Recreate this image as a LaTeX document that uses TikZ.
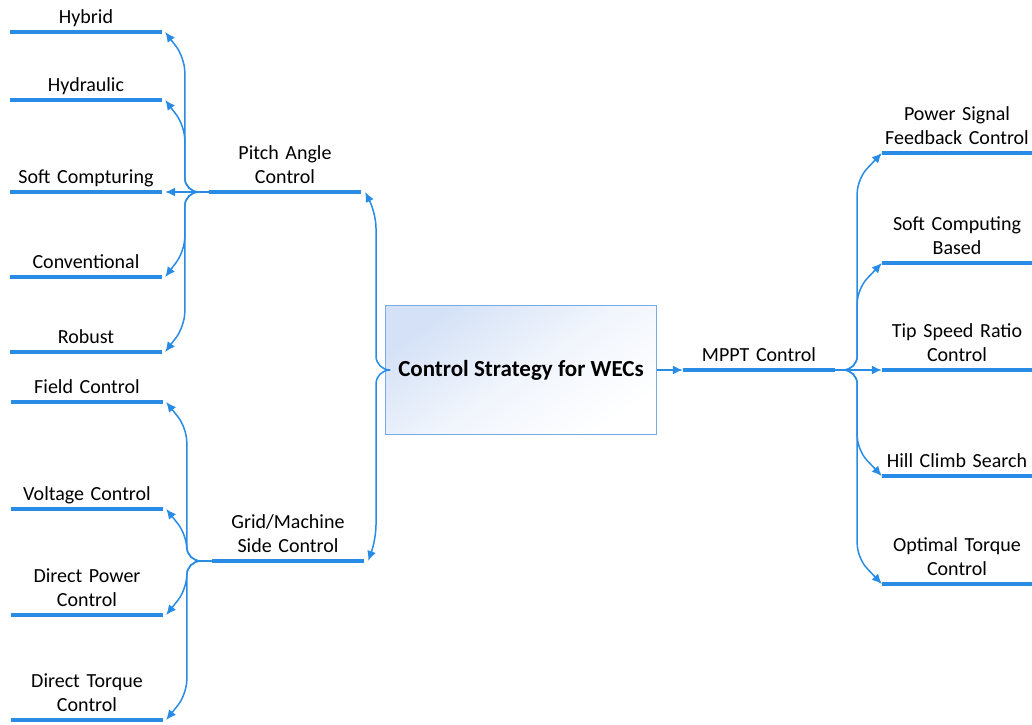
\documentclass[tikz,border=0pt]{standalone}
\usepackage{fontspec}
\setmainfont{Carlito}
\usetikzlibrary{arrows.meta,calc}
\definecolor{mapblue}{RGB}{40,140,230}
\definecolor{hubline}{RGB}{120,170,230}
\definecolor{hubfill}{RGB}{212,225,246}

\begin{document}
\begin{tikzpicture}[x=1pt,y=1pt,
    lbl/.style={anchor=south,text width=152pt,align=center,inner xsep=0pt,
      inner ysep=1pt,execute at end node=\strut,font=\fontsize{20}{24}\selectfont},
    bar/.style={draw=mapblue,line width=4pt},
    hub/.style={minimum width=271pt,minimum height=129pt,inner sep=0pt,
      draw=hubline,line width=1pt,top color=hubfill,bottom color=white,
      middle color=hubfill!35,shading angle=35,font=\bfseries\fontsize{23}{28}\selectfont},
    link/.style={draw=mapblue,line width=1.5pt,rounded corners=14pt,
      -{Latex[length=10pt,width=9pt]}},
    kid/.style 2 args={to path={let \p1=(\tikztostart), \p2=(\tikztotarget) in
      -- (\x1+#1,\y1) -- (\x1+#1,\y2+#2) -- (\p2)}}]
  \useasboundingbox (0,0) rectangle (1032,724);

  % centre
  \node[hub] (wec) at (521,354) {Control Strategy for WECs};

  % pitch angle branch
  \node[lbl] (pit) at (285,532) {Pitch Angle\\Control};
  \node[lbl] (hyb) at (86,692) {Hybrid};
  \node[lbl] (hyd) at (86,624) {Hydraulic};
  \node[lbl] (sfc) at (86,532) {Soft Compturing};
  \node[lbl] (cnv) at (86,447) {Conventional};
  \node[lbl] (rob) at (86,372) {Robust};

  % grid/machine side branch
  \node[lbl] (grd) at (288,163) {Grid/Machine\\Side Control};
  \node[lbl] (fld) at (87,322) {Field Control};
  \node[lbl] (vlt) at (87,215) {Voltage Control};
  \node[lbl] (dpc) at (87,109) {Direct Power\\Control};
  \node[lbl] (dtc) at (87,4) {Direct Torque\\Control};

  % mppt branch
  \node[lbl] (mppt) at (759,354) {MPPT Control};
  \node[lbl,text width=150pt] (psf) at (957,571) {Power Signal\\Feedback Control};
  \node[lbl,text width=150pt] (scb) at (957,461) {Soft Computing\\Based};
  \node[lbl,text width=150pt] (tsr) at (957,354) {Tip Speed Ratio\\Control};
  \node[lbl,text width=150pt] (hcs) at (957,248) {Hill Climb Search};
  \node[lbl,text width=150pt] (otc) at (957,140) {Optimal Torque\\Control};

  \foreach \n in {pit,hyb,hyd,sfc,cnv,rob,grd,fld,vlt,dpc,dtc,mppt,psf,scb,tsr,hcs,otc}
    \draw[bar] (\n.south west) -- (\n.south east);

  \draw[link] (wec.west) to[kid={-9}{-22}] ([xshift=4pt]pit.south east);
  \draw[link] (wec.west) to[kid={-9}{22}] ([xshift=4pt]grd.south east);
  \draw[link] (wec.east) -- (mppt.south west);

  \draw[link] (pit.south west) to[kid={-24}{-26}] ([xshift=3pt]hyb.south east);
  \draw[link] (pit.south west) to[kid={-24}{-26}] ([xshift=3pt]hyd.south east);
  \draw[link] (pit.south west) -- ([xshift=3pt]sfc.south east);
  \draw[link] (pit.south west) to[kid={-24}{26}] ([xshift=3pt]cnv.south east);
  \draw[link] (pit.south west) to[kid={-24}{26}] ([xshift=3pt]rob.south east);

  \draw[link] (grd.south west) to[kid={-25}{-26}] ([xshift=3pt]fld.south east);
  \draw[link] (grd.south west) to[kid={-25}{-26}] ([xshift=3pt]vlt.south east);
  \draw[link] (grd.south west) to[kid={-25}{26}] ([xshift=3pt]dpc.south east);
  \draw[link] (grd.south west) to[kid={-25}{26}] ([xshift=3pt]dtc.south east);

  \draw[link] (mppt.south east) to[kid={22}{-26}] (psf.south west);
  \draw[link] (mppt.south east) to[kid={22}{-26}] (scb.south west);
  \draw[link] (mppt.south east) -- (tsr.south west);
  \draw[link] (mppt.south east) to[kid={22}{26}] (hcs.south west);
  \draw[link] (mppt.south east) to[kid={22}{26}] (otc.south west);
\end{tikzpicture}
\end{document}
